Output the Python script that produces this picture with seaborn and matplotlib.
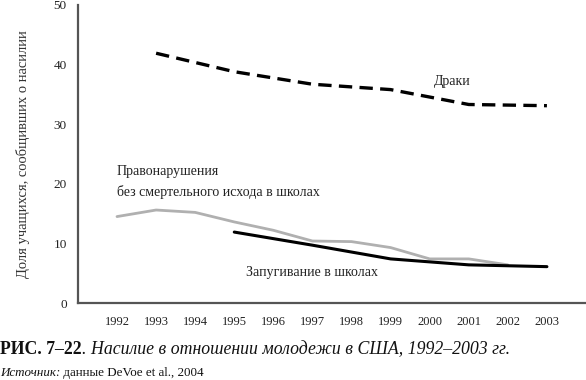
import matplotlib
matplotlib.use("Agg")
import matplotlib.pyplot as plt
import pandas as pd
import seaborn as sns

# Values (percent of students)
fight_years = [1993, 1995, 1997, 1999, 2001, 2003]
fight_values = [41.9, 38.8, 36.7, 35.8, 33.3, 33.1]

crime_years = [1992, 1993, 1994, 1995, 1996, 1997, 1998, 1999, 2000, 2001, 2002]
crime_values = [14.5, 15.6, 15.2, 13.6, 12.2, 10.4, 10.3, 9.3, 7.4, 7.4, 6.4]

bully_years = [1995, 1997, 1999, 2001, 2003]
bully_values = [11.9, 9.7, 7.4, 6.4, 6.1]

year_ticks = list(range(1992, 2004))
value_ticks = [0, 10, 20, 30, 40, 50]

sns.set_style("white")
plt.rcParams["font.family"] = ["Liberation Serif", "DejaVu Serif"]

fig = plt.figure(figsize=(5.86, 3.80), dpi=100)
ax = fig.add_axes([0.133, 0.2026, 0.867, 0.7844])

fights = pd.DataFrame({"year": fight_years, "value": fight_values})
crimes = pd.DataFrame({"year": crime_years, "value": crime_values})
bullying = pd.DataFrame({"year": bully_years, "value": bully_values})

sns.lineplot(data=crimes, x="year", y="value", ax=ax, color="#b0b0b0", linewidth=2.0)
sns.lineplot(data=bullying, x="year", y="value", ax=ax, color="black", linewidth=2.2)
sns.lineplot(data=fights, x="year", y="value", ax=ax, color="black", linewidth=2.4,
             linestyle=(0, (4, 2.2)))

ax.set_xlim(1991, 2004)
ax.set_ylim(0, 50)
ax.set_xticks(year_ticks)
ax.set_yticks(value_ticks)
ax.set_xlabel("")
ax.set_ylabel("Доля учащихся, сообщивших о насилии", fontsize=10.5, color="#333333",
              labelpad=17)

for side in ["top", "right"]:
    ax.spines[side].set_visible(False)
for side in ["left", "bottom"]:
    ax.spines[side].set_color("#555555")
    ax.spines[side].set_linewidth(1.6)

ax.tick_params(axis="x", direction="in", length=5, width=1, color="#555555",
               labelsize=9, labelcolor="#222222", pad=9)
ax.tick_params(axis="y", direction="in", length=5, width=1, color="#555555",
               labelsize=9.5, labelcolor="#222222", pad=8)

ax.text(2000.1, 37.1, "Драки", fontsize=10, va="center", ha="left", color="#222222")
ax.text(1992.0, 22.0, "Правонарушения", fontsize=10, va="center", ha="left",
        color="#222222")
ax.text(1992.0, 18.6, "без смертельного исхода в школах", fontsize=10, va="center",
        ha="left", color="#222222")
ax.text(1995.3, 5.2, "Запугивание в школах", fontsize=10, va="center", ha="left",
        color="#222222")


def chain_text(parts, y, size):
    # place text runs one after another, each with its own style
    renderer = fig.canvas.get_renderer()
    x = 0.0
    for content, kwargs in parts:
        t = fig.text(x, y, content, fontsize=size, va="baseline", ha="left",
                     color="#111111", **kwargs)
        bbox = t.get_window_extent(renderer=renderer)
        x = bbox.x1 / fig.bbox.width


chain_text([("РИС. 7–22", {"fontweight": "bold"}),
            (". Насилие в отношении молодежи в США, 1992–2003 гг.", {"style": "italic"})],
           1 - 354 / 380, 12.8)
chain_text([("Источник:", {"style": "italic"}),
            (" данные DeVoe et al., 2004", {})],
           1 - 376 / 380, 9.4)

fig.savefig("out.png", dpi=100)
